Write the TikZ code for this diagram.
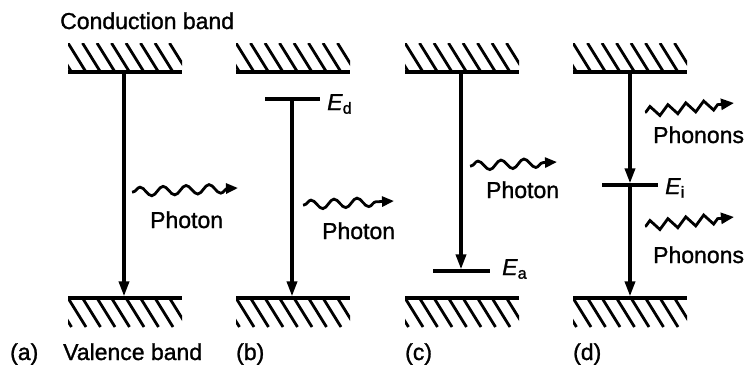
\documentclass[tikz,border=0pt]{standalone}
\usepackage{fontspec}
\setmainfont{Liberation Sans}
\newfontfamily\scanfont{Liberation Sans}[BoldFont=Liberation Sans,
  BoldFeatures={FakeBold=1.2}, BoldItalicFont=Liberation Sans Italic,
  BoldItalicFeatures={FakeBold=1.2}]
\usetikzlibrary{arrows.meta, positioning, decorations.pathmorphing}

\tikzset{
  band/.style={line width=4.4pt},
  hatch/.style={line width=2.8pt},
  level/.style={line width=3.8pt},
  trans/.style={line width=3.4pt, shorten >=1.6pt,
    -{Triangle[length=15pt, width=10pt]}},
  photon/.style={line width=2.8pt, -{Triangle[length=12pt, width=10pt]},
    decorate, decoration={snake, amplitude=4.5pt, segment length=23pt,
    pre length=1pt, post length=10pt}},
  phonon/.style={line width=2.8pt, -{Triangle[length=13pt, width=11pt]},
    decorate, decoration={zigzag, amplitude=5pt, segment length=18pt,
    pre length=1pt, post length=11pt}},
  lbl/.style={font=\scanfont\bfseries\fontsize{23}{27}\selectfont, inner sep=0pt},
}

% band edge at (#1,#2), hatching 29pt high above (top) or below (bottom)
\newcommand{\topband}[2]{%
  \begin{scope}
    \clip (#1,#2-29) rectangle ++(114,29);
    \foreach \k in {-1,...,7}
      \draw[hatch] (#1+\k*14.5,#2-29) -- ++(18,29);
  \end{scope}
  \draw[band] (#1,#2) -- ++(114,0);}
\newcommand{\botband}[2]{%
  \begin{scope}
    \clip (#1,#2) rectangle ++(114,29);
    \foreach \k in {-1,...,7}
      \draw[hatch] (#1+\k*14.5,#2) -- ++(18,29);
  \end{scope}
  \draw[band] (#1,#2) -- ++(114,0);}

\begin{document}
\begin{tikzpicture}[x=1pt, y=-1pt]
  \useasboundingbox (0,0) rectangle (748,367);

  % --- bands ---
  \topband{68}{72}   \botband{68}{298}
  \topband{236}{72}  \botband{236}{298}
  \topband{405}{72}  \botband{405}{298}
  \topband{573}{72}  \botband{573}{298}

  % --- band edge points ---
  \coordinate (cbA) at (124,72);  \coordinate (vbA) at (124,298);
  \coordinate (Ed)  at (292,99);  \coordinate (vbB) at (292,298);
  \coordinate (cbC) at (461,72);  \coordinate (Ea)  at (461,271);
  \coordinate (cbD) at (630,72);  \coordinate (Ei)  at (630,185);
  \coordinate (vbD) at (630,298);

  % --- impurity levels ---
  \draw[level] ([xshift=-27pt]Ed) -- ([xshift=28pt]Ed);
  \draw[level] ([xshift=-28pt]Ea) -- ([xshift=29pt]Ea);
  \draw[level] ([xshift=-28pt]Ei) -- ([xshift=28pt]Ei);

  % --- transitions ---
  \draw[trans] (cbA) -- (vbA);
  \draw[trans] (Ed) -- (vbB);
  \draw[trans] (cbC) -- (Ea);
  \draw[trans] (cbD) -- (Ei);
  \draw[trans] (Ei) -- (vbD);

  % --- photons and phonons ---
  \coordinate (phA0) at (132,192); \coordinate (phA1) at (238,188);
  \coordinate (phB0) at (303,205); \coordinate (phB1) at (394,201);
  \coordinate (phC0) at (470,166); \coordinate (phC1) at (557,162);
  \coordinate (pnD0) at (645,112); \coordinate (pnD1) at (734,103);
  \coordinate (pnE0) at (645,226); \coordinate (pnE1) at (734,217);
  \draw[photon] (phA0) -- (phA1);
  \draw[photon] (phB0) -- (phB1);
  \draw[photon] (phC0) -- (phC1);
  \draw[phonon] (pnD0) -- (pnD1);
  \draw[phonon] (pnE0) -- (pnE1);

  % --- labels ---
  \node[lbl, anchor=base west] (cbLbl) at (60,29) {Conduction band};
  \node[lbl, anchor=base west] (vbLbl) at (63,360) {Valence band};
  \node[lbl, anchor=base west] (tagA) at (10,360) {(a)};
  \node[lbl, anchor=base west] (tagB) at (236,360) {(b)};
  \node[lbl, anchor=base west] (tagC) at (405,360) {(c)};
  \node[lbl, anchor=base west] (tagD) at (573,360) {(d)};
  \node[lbl, anchor=base west] (phALbl) at (150,228) {Photon};
  \node[lbl, anchor=base west] (phBLbl) at (322,239) {Photon};
  \node[lbl, anchor=base west] (phCLbl) at (486,198) {Photon};
  \node[lbl, anchor=base west] (pnDLbl) at (653,143) {Phonons};
  \node[lbl, anchor=base west] (pnELbl) at (653,263) {Phonons};
  \node[lbl, anchor=base west] (EdLbl) at (327,110) {\textit{E}\textsubscript{d}};
  \node[lbl, anchor=base west] (EaLbl) at (502,275) {\textit{E}\textsubscript{a}};
  \node[lbl, anchor=base west] (EiLbl) at (665,194) {\textit{E}\textsubscript{i}};

\end{tikzpicture}
\end{document}
